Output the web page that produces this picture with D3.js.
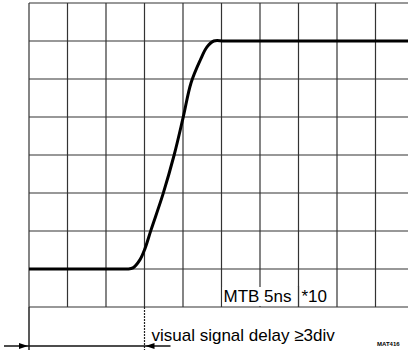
<!DOCTYPE html>
<html lang="en">
<head>
<meta charset="UTF-8">
<title>Visual signal delay</title>
<script src="https://d3js.org/d3.v7.min.js"></script>
<style>
  body { margin: 0; background: #fff; }
  .grid line { stroke: #333; stroke-width: 1.2px; }
  .trace { fill: none; stroke: #000; stroke-width: 3px; stroke-linejoin: round; }
  text { font-family: "Liberation Sans", Arial, sans-serif; fill: #000; }
</style>
</head>
<body>
<script>
// graticule in divisions
const xDivs = d3.range(0, 11);   // 10 horizontal divisions (right edge cut off)
const yDivs = d3.range(0, 9);    // 8 vertical divisions

// step response trace (divisions)
const traceX = [0, 2.3, 2.55, 2.7, 2.88, 3.01, 3.17, 3.48, 3.77, 4.0, 4.21, 4.45, 4.62, 4.8, 5.1, 10];
const traceY = [1, 1, 1, 1.03, 1.24, 1.53, 2.03, 2.97, 4.0, 4.97, 5.9, 6.5, 6.84, 7, 7, 7];

const delayDiv = 3;
const mtbLabel = ["MTB 5ns", "*10"];
const delayLabel = "visual signal delay \u22653div";
const codeLabel = "MAT416";

const width = 408, height = 350;

const x = d3.scaleLinear().domain([0, 10]).range([29, 414]);
const y = d3.scaleLinear().domain([0, 8]).range([307, 3]);

const svg = d3.select("body").append("svg")
  .attr("width", width)
  .attr("height", height);

// grid
const grid = svg.append("g").attr("class", "grid");
grid.selectAll(".v")
  .data(xDivs)
  .enter().append("line")
  .attr("x1", d => x(d)).attr("x2", d => x(d))
  .attr("y1", y(8)).attr("y2", y(0));
grid.selectAll(".h")
  .data(yDivs)
  .enter().append("line")
  .attr("x1", x(0)).attr("x2", x(10))
  .attr("y1", d => y(d)).attr("y2", d => y(d));

// white box behind the timebase label
svg.append("rect")
  .attr("x", x(5) + 1)
  .attr("y", 287)
  .attr("width", x(7) - x(5) - 2)
  .attr("height", y(0) - 287 - 1)
  .attr("fill", "#fff");
svg.append("line")
  .attr("x1", x(7)).attr("x2", x(7))
  .attr("y1", 286).attr("y2", y(0))
  .attr("stroke", "#333").attr("stroke-width", 1.2);

svg.append("text")
  .attr("x", x(5) + 2)
  .attr("y", 302)
  .attr("font-size", 17)
  .text(mtbLabel[0]);
svg.append("text")
  .attr("x", x(7) + 3)
  .attr("y", 302)
  .attr("font-size", 17)
  .text(mtbLabel[1]);

// trace
const pts = traceX.map((v, i) => [v, traceY[i]]);
svg.append("path")
  .attr("class", "trace")
  .attr("d", d3.line()
    .x(d => x(d[0]))
    .y(d => y(d[1]))
    .curve(d3.curveCatmullRom.alpha(0.5))(pts));

// delay marker below the graticule
const ay = 346;
svg.append("line")
  .attr("x1", x(0)).attr("x2", x(0))
  .attr("y1", y(0)).attr("y2", height)
  .attr("stroke", "#222").attr("stroke-width", 1.5);
svg.append("line")
  .attr("x1", x(delayDiv)).attr("x2", x(delayDiv))
  .attr("y1", y(0)).attr("y2", height)
  .attr("stroke", "#222").attr("stroke-width", 1.2)
  .attr("stroke-dasharray", "2,1");

svg.append("line")
  .attr("x1", 4).attr("x2", x(delayDiv) + 26)
  .attr("y1", ay).attr("y2", ay)
  .attr("stroke", "#111").attr("stroke-width", 1.3);

const head = (tip, dir) => {
  const l = 9 * dir;
  return `M${tip},${ay} L${tip - l},${ay - 3} L${tip - l},${ay + 3} Z`;
};
svg.append("path").attr("d", head(x(0) - 1, 1)).attr("fill", "#000");
svg.append("path").attr("d", head(x(delayDiv) + 1, -1)).attr("fill", "#000");

svg.append("text")
  .attr("x", x(delayDiv) + 7)
  .attr("y", 341)
  .attr("font-size", 17)
  .text(delayLabel);

svg.append("text")
  .attr("x", 377)
  .attr("y", 346)
  .attr("font-size", 6)
  .attr("font-weight", "bold")
  .text(codeLabel);
</script>
</body>
</html>
